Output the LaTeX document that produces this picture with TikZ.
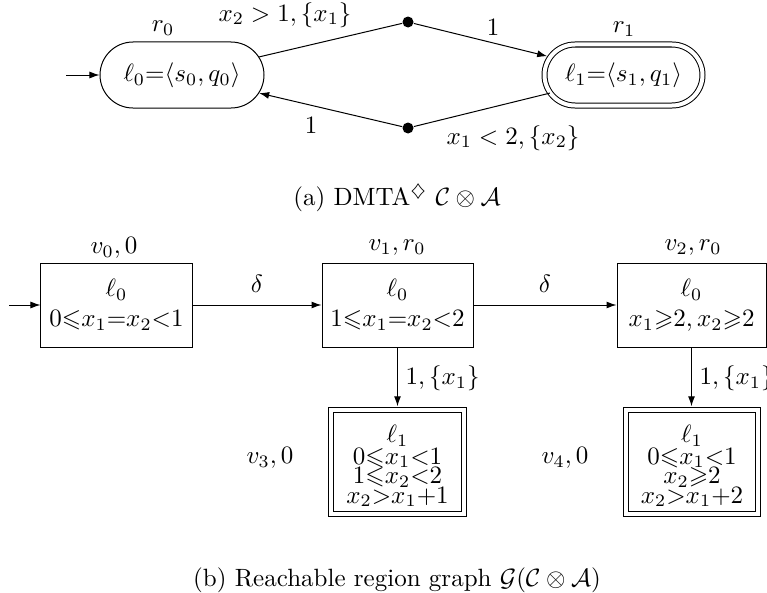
\documentclass[tikz,border=0pt]{standalone}
\usepackage{amssymb}
\usetikzlibrary{arrows.meta,shapes.misc}
\begin{document}
\begin{tikzpicture}[x=0.4pt,y=-0.4pt,
  >={Latex[length=4pt,width=2.8pt]},
  every node/.style={font=\fontsize{10}{12}\selectfont, inner sep=0pt},
  loc/.style={draw, rounded rectangle, minimum width=65.6pt, minimum height=26.4pt},
  accloc/.style={draw, double, double distance=1.6pt, rounded rectangle, minimum width=63.2pt, minimum height=24.4pt},
  dot/.style={circle, fill, minimum size=4.4pt, inner sep=0pt},
  region/.style={draw, rectangle, minimum height=33.6pt, align=center},
  accregion/.style={draw, double, double distance=1.6pt, rectangle, minimum width=53pt, minimum height=41.6pt, align=center},
  lbl/.style={}
]
\useasboundingbox (0,0) rectangle (767,593);

% ---------- (a) ----------
\node[loc] (l0) at (182,75) {$\ell_0{=}\langle s_0, q_0\rangle$};
\node[accloc] (l1) at (623.5,75) {$\ell_1{=}\langle s_1, q_1\rangle$};
\node[dot] (d1) at (408,22) {};
\node[dot] (d2) at (408,128) {};
\coordinate (i0) at (66,75);

\node[lbl] (r0) at (163,28) {$r_0$};
\node[lbl] (r1) at (624,29) {$r_1$};

\draw[->] (i0) -- (l0);
\draw (l0) -- (d1);
\draw[->, shorten >=1.1pt] (d1) -- (l1);
\draw (l1) -- (d2);
\draw[->] (d2) -- (l0);

\node[lbl] (g1) at (285,15) {$x_2 > 1, \{x_1\}$};
\node[lbl] (w1) at (493,27) {$1$};
\node[lbl] (w2) at (311,125) {$1$};
\node[lbl] (g2) at (513,138) {$x_1 < 2, \{x_2\}$};

\node[lbl] (capa) at (397,198) {(a) DMTA$^{\diamondsuit}$ $\mathcal{C}\otimes\mathcal{A}$};

% ---------- (b) ----------
\node[region, minimum width=60.4pt] (v0) at (116.5,305) {$\ell_0$\\ $0{\leqslant}x_1{=}x_2{<}1$};
\node[region, minimum width=60.4pt] (v1) at (397.5,305) {$\ell_0$\\ $1{\leqslant}x_1{=}x_2{<}2$};
\node[region, minimum width=59.6pt] (v2) at (691.5,305) {$\ell_0$\\ $x_1{\geqslant}2, x_2{\geqslant}2$};
\node[accregion] (v3) at (397.5,461.5) {\rule{0pt}{10.5pt}$\ell_1$\\[-3.4pt] $0{\leqslant}x_1{<}1$\\[-4.2pt] $1{\leqslant}x_2{<}2$\\[-4.2pt] $x_2{>}x_1{+}1$};
\node[accregion] (v4) at (692,461.5) {\rule{0pt}{10.5pt}$\ell_1$\\[-3.4pt] $0{\leqslant}x_1{<}1$\\[-4.2pt] $x_2{\geqslant}2$\\[-4.2pt] $x_2{>}x_1{+}2$};
\coordinate (i1) at (9,305);

\node[lbl] (n0) at (114,248) {$v_0, 0$};
\node[lbl] (n1) at (397,248) {$v_1, r_0$};
\node[lbl] (n2) at (693,248) {$v_2, r_0$};
\node[lbl] (n3) at (270,458) {$v_3, 0$};
\node[lbl] (n4) at (565,458) {$v_4, 0$};

\draw[->] (i1) -- (v0);
\draw[->] (v0) -- node[above=5pt] {$\delta$} (v1);
\draw[->] (v1) -- node[above=5pt] {$\delta$} (v2);
\draw[->, shorten >=1.1pt] (v1.south) -- (v1.south |- v3.north) node[midway, right=3pt] {$1, \{x_1\}$};
\draw[->, shorten >=1.1pt] (v2.south) -- (v2.south |- v4.north) node[midway, right=3pt] {$1, \{x_1\}$};

\node[lbl] (capb) at (397,580) {(b) Reachable region graph $\mathcal{G}(\mathcal{C}\otimes\mathcal{A})$};
\end{tikzpicture}
\end{document}
